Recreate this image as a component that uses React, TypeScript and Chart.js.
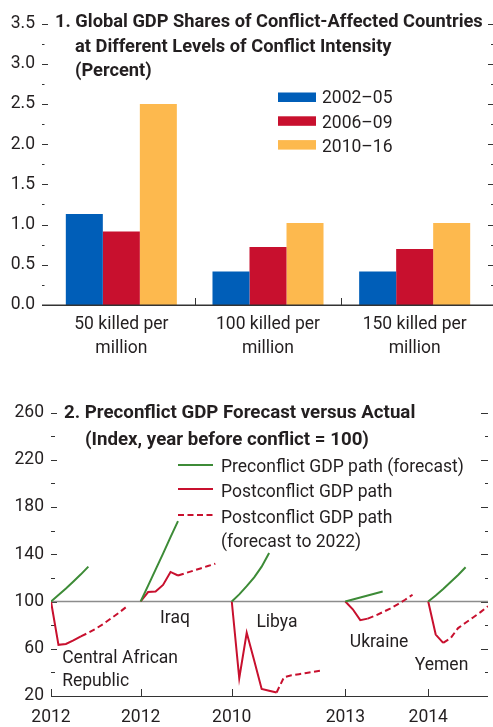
import React, { useEffect, useRef } from "react";
import { Chart, registerables } from "chart.js";

Chart.register(...registerables);

const FONT = "Roboto, 'Liberation Sans', Arial, sans-serif";
const FS = 17.5;
const TFS1 = 18.3;
const TFS2 = 18.7;
const TEXT = "#231f20";
const AXIS = "#333333";
const BLUE = "#005eb8";
const RED = "#c8102e";
const YELLOW = "#fdb94e";
const GREEN = "#3d8b37";
const GRAY = "#8c8c8c";

// ---------- Panel 1 data ----------
const intensityLabels = [
  ["50 killed per", "million"],
  ["100 killed per", "million"],
  ["150 killed per", "million"],
];
const periodLabels = ["2002–05", "2006–09", "2010–16"];
const share2002_05 = [1.13, 0.415, 0.415];
const share2006_09 = [0.915, 0.72, 0.695];
const share2010_16 = [2.5, 1.02, 1.02];
const shareMin = 0;
const shareMax = 3.5;
const shareStep = 0.5;
const panel1Title = [
  "1. Global GDP Shares of Conflict-Affected Countries",
  "at Different Levels of Conflict Intensity",
  "(Percent)",
];

// ---------- Panel 2 data ----------
const countryNames = [["Central African", "Republic"], ["Iraq"], ["Libya"], ["Ukraine"], ["Yemen"]];
const baseYears = [2012, 2012, 2010, 2013, 2014];

const preCAR = [100, 105.5, 111, 117, 123, 129.5];
const actualCAR = [100, 63.3, 64, 67, 70.5];
const forecastCAR = [70.5, 73.5, 77, 81, 85.5, 90, 95];

const preIraq = [100, 113.5, 127, 140.5, 154.5, 168];
const actualIraq = [100, 108, 108.5, 114, 125, 122];
const forecastIraq = [122, 124, 126, 128, 130, 132];

const preLibya = [100, 106, 113, 120.5, 129.5, 141];
const actualLibya = [100, 35, 73.5, 50, 26, 24.5, 23];
const forecastLibya = [23, 36, 37.5, 38.5, 39.5, 40.5, 41.5];

const preUkraine = [100, 101.7, 103.4, 105.1, 106.8, 108.5];
const actualUkraine = [100, 93.4, 84.2, 85.5];
const forecastUkraine = [85.5, 88, 91, 94, 97.5, 101.5, 105.7];

const preYemen = [100, 105, 110.5, 116.5, 122.5, 129];
const actualYemen = [100, 72, 65];
const forecastYemen = [65, 69, 77.5, 82, 86.5, 91, 96];

const indexMin = 20;
const indexMax = 260;
const indexStep = 40;
const legend2Labels = [
  ["Preconflict GDP path (forecast)"],
  ["Postconflict GDP path"],
  ["Postconflict GDP path", "(forecast to 2022)"],
];
const panel2Title = ["2. Preconflict GDP Forecast versus Actual", "(Index, year before conflict = 100)"];

// ---------- Layout (positions, not data) ----------
const SLOT_START = [0, 12, 24.2, 39.4, 50.5];
const X_MAX = 58.5;
const COUNTRY_LABEL_POS = [
  { x: 1.5, y: [47.8, 28.2] },
  { x: 14.6, y: [82.2] },
  { x: 27.5, y: [78.8] },
  { x: 40.0, y: [61.4] },
  { x: 48.7, y: [42.1] },
];

const countrySeries = [
  { pre: preCAR, actual: actualCAR, forecast: forecastCAR },
  { pre: preIraq, actual: actualIraq, forecast: forecastIraq },
  { pre: preLibya, actual: actualLibya, forecast: forecastLibya },
  { pre: preUkraine, actual: actualUkraine, forecast: forecastUkraine },
  { pre: preYemen, actual: actualYemen, forecast: forecastYemen },
];

function toPoints(values: number[], firstOffset: number, slot: number) {
  return values.map((v, i) => ({ x: slot + firstOffset + i, y: v }));
}

function line(ctx: CanvasRenderingContext2D, x1: number, y1: number, x2: number, y2: number) {
  ctx.beginPath();
  ctx.moveTo(x1, y1);
  ctx.lineTo(x2, y2);
  ctx.stroke();
}

const panel1Deco = {
  id: "panel1Deco",
  afterDraw(chart: any) {
    const ctx: CanvasRenderingContext2D = chart.ctx;
    const ca = chart.chartArea;
    const ys = chart.scales.y;
    const xs = chart.scales.x;
    ctx.save();
    ctx.strokeStyle = AXIS;
    ctx.lineWidth = 1;
    const lx = ca.left - 6;
    const rx = ca.right + 5;
    for (let v = shareMin + shareStep / 2; v <= shareMax + 1e-6; v += shareStep / 2) {
      const py = Math.round(ys.getPixelForValue(v)) + 0.5;
      const major = Math.abs(v / shareStep - Math.round(v / shareStep)) < 1e-6;
      line(ctx, lx, py, lx + (major ? 6 : 2.5), py);
      line(ctx, rx - (major ? 5 : 2), py, rx, py);
    }
    // x axis
    ctx.lineWidth = 1.5;
    const by = Math.round(ca.bottom) + 0.25;
    line(ctx, lx, by, rx, by);
    ctx.lineWidth = 1;
    for (let i = 1; i < intensityLabels.length; i++) {
      const px = Math.round((xs.getPixelForValue(i - 1) + xs.getPixelForValue(i)) / 2) + 0.5;
      line(ctx, px, ca.bottom, px, ca.bottom - 7);
    }
    // title
    ctx.fillStyle = TEXT;
    ctx.font = `bold ${TFS1}px ${FONT}`;
    ctx.textBaseline = "alphabetic";
    ctx.textAlign = "left";
    ctx.fillText(panel1Title[0], 55, 26.5);
    ctx.fillText(panel1Title[1], 75, 51.5);
    ctx.fillText(panel1Title[2], 75, 75.5);
    // legend
    const colors = [BLUE, RED, YELLOW];
    ctx.font = `${FS}px ${FONT}`;
    for (let i = 0; i < periodLabels.length; i++) {
      ctx.fillStyle = colors[i];
      ctx.fillRect(278, 92.5 + i * 23.8, 38, 9.5);
      ctx.fillStyle = TEXT;
      ctx.fillText(periodLabels[i], 322, 103.3 + i * 24.5);
    }
    ctx.restore();
  },
};

const panel2Deco = {
  id: "panel2Deco",
  beforeDatasetsDraw(chart: any) {
    const ctx: CanvasRenderingContext2D = chart.ctx;
    const ca = chart.chartArea;
    const ys = chart.scales.y;
    const xs = chart.scales.x;
    ctx.save();
    ctx.strokeStyle = AXIS;
    ctx.lineWidth = 1;
    for (let v = indexMin + indexStep / 2; v <= indexMax + 1e-6; v += indexStep / 2) {
      const py = Math.round(ys.getPixelForValue(v)) + 0.5;
      const major = Math.abs((v - indexMin) / indexStep - Math.round((v - indexMin) / indexStep)) < 1e-6;
      line(ctx, ca.left, py, ca.left + (major ? 6 : 4), py);
      line(ctx, ca.right - (major ? 7 : 3), py, ca.right, py);
    }
    const by = Math.round(ca.bottom) + 0.5;
    line(ctx, ca.left, by, ca.right, by);
    for (let i = 0; i < SLOT_START.length; i++) {
      const px = Math.round(xs.getPixelForValue(SLOT_START[i])) + 0.5;
      line(ctx, px, ca.bottom, px, ca.bottom - 7);
    }
    // reference line at 100
    ctx.strokeStyle = GRAY;
    ctx.lineWidth = 1.5;
    const y100 = ys.getPixelForValue(100);
    line(ctx, ca.left, y100, ca.right, y100);
    ctx.restore();
  },
  afterDatasetsDraw(chart: any) {
    const ctx: CanvasRenderingContext2D = chart.ctx;
    const ys = chart.scales.y;
    const xs = chart.scales.x;
    ctx.save();
    ctx.fillStyle = TEXT;
    ctx.textBaseline = "alphabetic";
    ctx.textAlign = "left";
    ctx.font = `bold ${TFS2}px ${FONT}`;
    ctx.fillText(panel2Title[0], 64, 28.3);
    ctx.fillText(panel2Title[1], 85, 54.5);
    // legend
    ctx.font = `${FS}px ${FONT}`;
    const lineY = [75, 99, 125];
    const styles = [
      { c: GREEN, d: [] as number[] },
      { c: RED, d: [] as number[] },
      { c: RED, d: [6, 3.5] },
    ];
    const textY = [82.3, 106.5, 132.5];
    for (let i = 0; i < legend2Labels.length; i++) {
      ctx.strokeStyle = styles[i].c;
      ctx.lineWidth = 2;
      ctx.setLineDash(styles[i].d);
      line(ctx, 178, lineY[i], 213, lineY[i]);
      ctx.setLineDash([]);
      legend2Labels[i].forEach((t, j) => ctx.fillText(t, 221, textY[i] + j * 24.5));
    }
    // country labels
    for (let i = 0; i < countryNames.length; i++) {
      const p = COUNTRY_LABEL_POS[i];
      countryNames[i].forEach((t, j) => {
        ctx.fillText(t, xs.getPixelForValue(p.x), ys.getPixelForValue(p.y[j]));
      });
    }
    ctx.restore();
  },
};

function buildPanel2Datasets() {
  const ds: any[] = [];
  countrySeries.forEach((s, i) => {
    const slot = SLOT_START[i];
    ds.push({
      data: toPoints(s.pre, 0, slot),
      borderColor: GREEN,
      borderWidth: 2,
      pointRadius: 0,
      fill: false,
    });
    ds.push({
      data: toPoints(s.actual, 0, slot),
      borderColor: RED,
      borderWidth: 2,
      pointRadius: 0,
      fill: false,
    });
    ds.push({
      data: toPoints(s.forecast, s.actual.length - 1, slot),
      borderColor: RED,
      borderWidth: 2,
      borderDash: [6, 3.5],
      pointRadius: 0,
      fill: false,
    });
  });
  return ds;
}

const noGrid = { display: false, drawTicks: false, tickLength: 0 };

export default function App() {
  const topRef = useRef<HTMLCanvasElement>(null);
  const botRef = useRef<HTMLCanvasElement>(null);

  useEffect(() => {
    const tickFont = { family: FONT, size: FS };
    const c1 = new Chart(topRef.current as HTMLCanvasElement, {
      type: "bar",
      data: {
        labels: intensityLabels as any,
        datasets: [
          { label: periodLabels[0], data: share2002_05, backgroundColor: BLUE },
          { label: periodLabels[1], data: share2006_09, backgroundColor: RED },
          { label: periodLabels[2], data: share2010_16, backgroundColor: YELLOW },
        ],
      },
      options: {
        responsive: false,
        animation: false,
        layout: { padding: { top: 18, right: 5, left: 0, bottom: 0 } },
        datasets: { bar: { categoryPercentage: 0.757, barPercentage: 1.0, borderWidth: 0 } },
        plugins: { legend: { display: false }, tooltip: { enabled: false } },
        scales: {
          x: {
            grid: noGrid,
            border: { display: false },
            ticks: { font: { ...tickFont, lineHeight: 1.37 }, color: TEXT, padding: 8, maxRotation: 0, autoSkip: false },
            afterFit: (s: any) => {
              s.height = 85;
            },
          },
          y: {
            min: shareMin,
            max: shareMax,
            grid: noGrid,
            border: { display: false },
            ticks: {
              stepSize: shareStep,
              font: tickFont,
              color: TEXT,
              padding: 13,
              callback: (v: any) => Number(v).toFixed(1),
            },
            afterFit: (s: any) => {
              s.width = 48;
            },
          },
        },
      },
      plugins: [panel1Deco],
    } as any);

    const c2 = new Chart(botRef.current as HTMLCanvasElement, {
      type: "line",
      data: { datasets: buildPanel2Datasets() },
      options: {
        responsive: false,
        animation: false,
        layout: { padding: { top: 22.5, right: 5, left: 0, bottom: 0 } },
        plugins: { legend: { display: false }, tooltip: { enabled: false } },
        elements: { line: { tension: 0 } },
        scales: {
          x: {
            type: "linear",
            min: 0,
            max: X_MAX,
            grid: noGrid,
            border: { display: false },
            afterBuildTicks: (s: any) => {
              s.ticks = SLOT_START.map((v) => ({ value: v }));
            },
            ticks: {
              font: tickFont,
              color: TEXT,
              padding: 11,
              maxRotation: 0,
              autoSkip: false,
              callback: (_v: any, i: number) => String(baseYears[i]),
            },
            afterFit: (s: any) => {
              s.height = 31;
            },
          },
          y: {
            min: indexMin,
            max: indexMax,
            grid: noGrid,
            border: { display: false },
            ticks: { stepSize: indexStep, font: tickFont, color: TEXT, padding: 7 },
            afterFit: (s: any) => {
              s.width = 51;
            },
          },
        },
      },
      plugins: [panel2Deco],
    } as any);

    return () => {
      c1.destroy();
      c2.destroy();
    };
  }, []);

  return (
    <div
      style={{
        position: "absolute",
        left: 0,
        top: 0,
        width: 493,
        height: 727,
        background: "#ffffff",
        overflow: "hidden",
      }}
    >
      <canvas ref={topRef} width={493} height={390} style={{ position: "absolute", left: 0, top: 0 }} />
      <canvas ref={botRef} width={493} height={337} style={{ position: "absolute", left: 0, top: 390 }} />
    </div>
  );
}
